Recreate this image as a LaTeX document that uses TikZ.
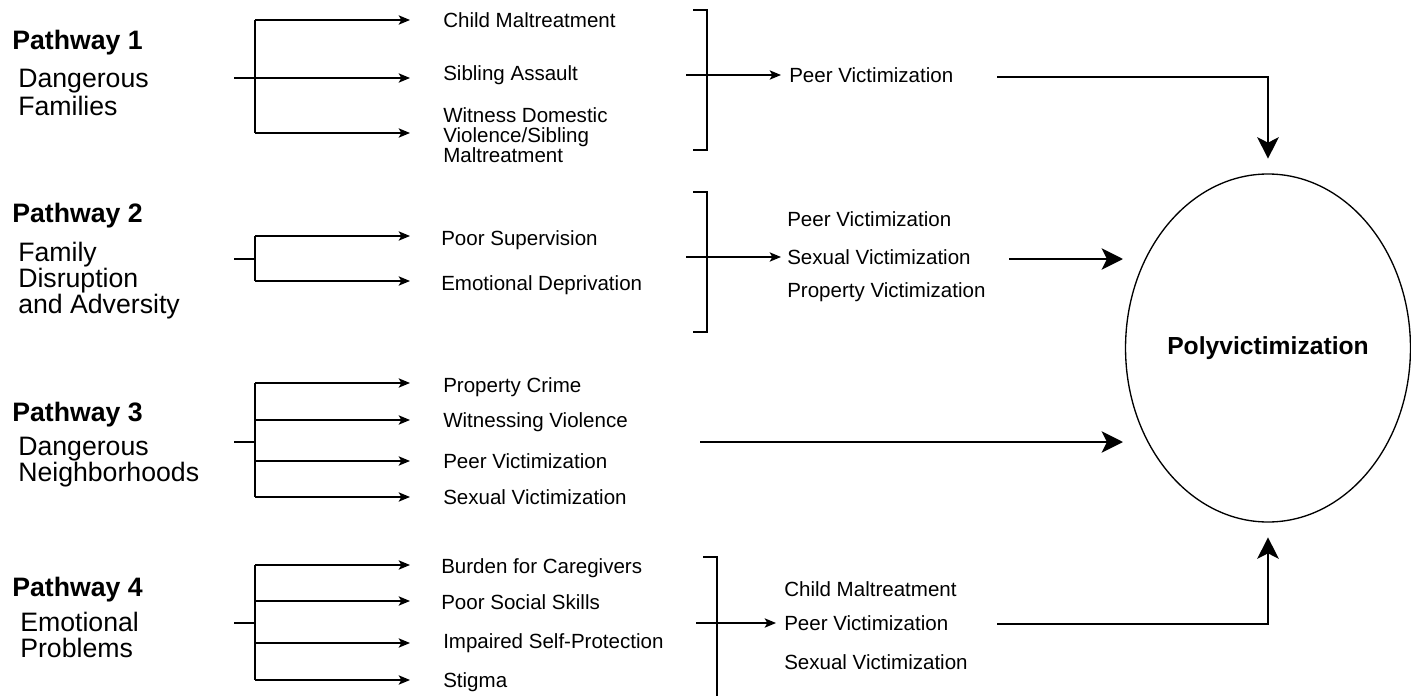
\documentclass[tikz,border=0pt]{standalone}
\usepackage{fontspec}
\setmainfont{Liberation Sans}
\usetikzlibrary{arrows.meta,shapes.geometric}
\begin{document}
\begin{tikzpicture}[x=0.75pt,y=-0.75pt,
  ttl/.style={anchor=base west,inner sep=0pt,font=\fontsize{20}{24}\selectfont\bfseries},
  desc/.style={anchor=west,inner sep=0pt,align=left,font=\fontsize{20}{19.5}\selectfont},
  lbl/.style={anchor=base west,inner sep=0pt,font=\fontsize{15.4}{15}\selectfont},
  mlbl/.style={anchor=west,inner sep=0pt,align=left,font=\fontsize{15.4}{15}\selectfont},
  thinline/.style={line width=1pt},
  thinarrow/.style={line width=1pt,-{Stealth[length=8.5pt,width=7pt,inset=2pt]}},
  thickarrow/.style={line width=2.2pt,-{Stealth[length=16pt,width=16pt,inset=4pt]}},
]
\useasboundingbox (0,0) rectangle (1411,696);

% central ellipse
\node[draw,ellipse,line width=1pt,minimum width=201pt,minimum height=261pt,inner sep=0pt,
      font=\fontsize{18.5}{20}\selectfont\bfseries] (poly) at (1268,348) {Polyvictimization};

% ---------------- Pathway 1
\node[ttl] (pw1) at (12,49) {Pathway 1};
\node[desc,font=\fontsize{20}{21}\selectfont] (pd1) at (18,92) {Dangerous\\Families};
\coordinate (s1) at (234,78);
\coordinate (j1t) at (255,20);
\coordinate (j1b) at (255,133);
\coordinate (a11) at (410,20);
\coordinate (a12) at (410,78);
\coordinate (a13) at (410,133);
\draw[thinline] (j1t) -- (j1b);
\draw[thinarrow] (j1t) -- (a11);
\draw[thinarrow] (s1) -- (a12);
\draw[thinarrow] (j1b) -- (a13);
\node[lbl] (l11) at (443,27) {Child Maltreatment};
\node[lbl] (l12) at (443,80) {Sibling Assault};
\node[mlbl] (l13) at (443,135) {Witness Domestic\\Violence/Sibling\\Maltreatment};
\coordinate (b1t) at (693,10);
\coordinate (b1b) at (693,150);
\draw[thinline] (b1t) -- ++(14,0) |- (b1b);
\coordinate (b1i) at (686,75);
\coordinate (b1o) at (781,75);
\draw[thinarrow] (b1i) -- (b1o);
\node[lbl] (r1) at (789,82) {Peer Victimization};
\coordinate (t1s) at (997,77);
\draw[thickarrow,shorten >=11pt] (t1s) -| (poly.north);

% ---------------- Pathway 2
\node[ttl] (pw2) at (12,222) {Pathway 2};
\node[desc] (pd2) at (18,281) {Family\\Disruption\\and Adversity};
\coordinate (s2) at (234,259);
\coordinate (j2m) at (255,259);
\coordinate (j2t) at (255,236);
\coordinate (j2b) at (255,281);
\coordinate (a21) at (410,236);
\coordinate (a22) at (410,281);
\draw[thinline] (s2) -- (j2m);
\draw[thinline] (j2t) -- (j2b);
\draw[thinarrow] (j2t) -- (a21);
\draw[thinarrow] (j2b) -- (a22);
\node[lbl] (l21) at (441,245) {Poor Supervision};
\node[lbl] (l22) at (441,290) {Emotional Deprivation};
\coordinate (b2t) at (693,192);
\coordinate (b2b) at (693,332);
\draw[thinline] (b2t) -- ++(14,0) |- (b2b);
\coordinate (b2i) at (686,257);
\coordinate (b2o) at (781,257);
\draw[thinarrow] (b2i) -- (b2o);
\node[lbl] (r21) at (787,226) {Peer Victimization};
\node[lbl] (r22) at (787,264) {Sexual Victimization};
\node[lbl] (r23) at (787,297) {Property Victimization};
\coordinate (t2s) at (1009,259);
\coordinate (t2e) at (1123,259);
\draw[thickarrow] (t2s) -- (t2e);

% ---------------- Pathway 3
\node[ttl] (pw3) at (12,421) {Pathway 3};
\node[desc] (pd3) at (18,462) {Dangerous\\Neighborhoods};
\coordinate (s3) at (234,442);
\coordinate (j3m) at (255,442);
\coordinate (j31) at (255,383);
\coordinate (j32) at (255,420);
\coordinate (j33) at (255,461);
\coordinate (j34) at (255,497);
\coordinate (a31) at (410,383);
\coordinate (a32) at (410,420);
\coordinate (a33) at (410,461);
\coordinate (a34) at (410,497);
\draw[thinline] (s3) -- (j3m);
\draw[thinline] (j31) -- (j34);
\draw[thinarrow] (j31) -- (a31);
\draw[thinarrow] (j32) -- (a32);
\draw[thinarrow] (j33) -- (a33);
\draw[thinarrow] (j34) -- (a34);
\node[lbl] (l31) at (443,392) {Property Crime};
\node[lbl] (l32) at (443,427) {Witnessing Violence};
\node[lbl] (l33) at (443,468) {Peer Victimization};
\node[lbl] (l34) at (443,504) {Sexual Victimization};
\coordinate (t3s) at (700,442);
\coordinate (t3e) at (1123,442);
\draw[thickarrow] (t3s) -- (t3e);

% ---------------- Pathway 4
\node[ttl] (pw4) at (12,596) {Pathway 4};
\node[desc] (pd4) at (20,635) {Emotional\\Problems};
\coordinate (s4) at (234,623);
\coordinate (j4m) at (255,623);
\coordinate (j41) at (255,565);
\coordinate (j42) at (255,601);
\coordinate (j43) at (255,643);
\coordinate (j44) at (255,680);
\coordinate (a41) at (410,565);
\coordinate (a42) at (410,601);
\coordinate (a43) at (410,643);
\coordinate (a44) at (410,680);
\draw[thinline] (s4) -- (j4m);
\draw[thinline] (j41) -- (j44);
\draw[thinarrow] (j41) -- (a41);
\draw[thinarrow] (j42) -- (a42);
\draw[thinarrow] (j43) -- (a43);
\draw[thinarrow] (j44) -- (a44);
\node[lbl] (l41) at (441,573) {Burden for Caregivers};
\node[lbl] (l42) at (441,609) {Poor Social Skills};
\node[lbl] (l43) at (443,648) {Impaired Self-Protection};
\node[lbl] (l44) at (443,687) {Stigma};
\coordinate (b4t) at (703,557);
\coordinate (b4b) at (717,700);
\draw[thinline] (b4t) -- ++(14,0) -- (b4b);
\coordinate (b4i) at (696,623);
\coordinate (b4o) at (776,623);
\draw[thinarrow] (b4i) -- (b4o);
\node[lbl] (r41) at (784,596) {Child Maltreatment};
\node[lbl] (r42) at (784,630) {Peer Victimization};
\node[lbl] (r43) at (784,669) {Sexual Victimization};
\coordinate (t4s) at (997,624);
\draw[thickarrow,shorten >=11pt] (t4s) -| (poly.south);
\end{tikzpicture}
\end{document}
